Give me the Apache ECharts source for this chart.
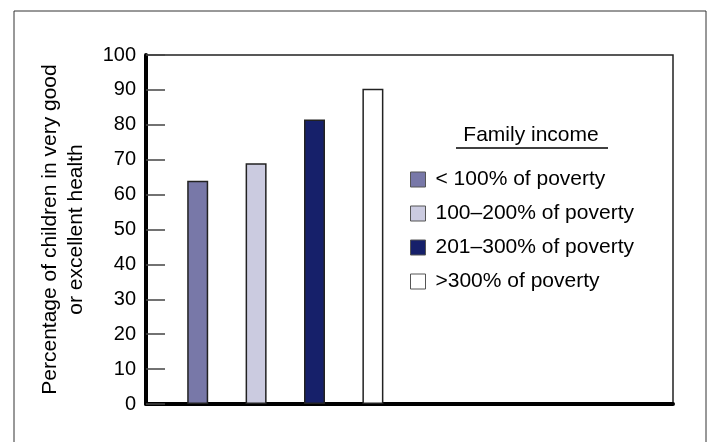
<!DOCTYPE html>
<html>
<head>
<meta charset="utf-8">
<script src="https://cdn.jsdelivr.net/npm/echarts@6/dist/echarts.min.js"></script>
<style>
html,body{margin:0;padding:0;background:#fff;}
#chart{width:709px;height:442px;}
</style>
</head>
<body>
<div id="chart"></div>
<script>
var categories = ['< 100% of poverty', '100–200% of poverty', '201–300% of poverty', '>300% of poverty'];
var values = [64, 69, 81.5, 90.3];
var colors = ['#7878a8', '#cbcbe0', '#16206a', '#ffffff'];
var yTicks = [0, 10, 20, 30, 40, 50, 60, 70, 80, 90, 100];
var yTitle = 'Percentage of children in very good\nor excellent health';
var legendTitle = 'Family income';

var FONT = '"Liberation Sans", Arial, Helvetica, sans-serif';
var chart = echarts.init(document.getElementById('chart'));

var series = categories.map(function (name, i) {
  var data = categories.map(function (c, j) { return j === i ? values[i] : '-'; });
  return {
    name: name,
    type: 'bar',
    xAxisIndex: 1,
    yAxisIndex: 1,
    data: data,
    barWidth: 21,
    barGap: '-100%',
    itemStyle: { color: colors[i], borderColor: '#222', borderWidth: 1.5 },
    emphasis: { disabled: true }
  };
});

var option = {
  animation: false,
  backgroundColor: '#fff',
  grid: [
    { left: 146, top: 55, right: 36, bottom: 38, show: true, borderColor: '#222', borderWidth: 1.5, backgroundColor: 'transparent' },
    { left: 168.5, top: 55, width: 233.6, bottom: 38 }
  ],
  xAxis: [
    { gridIndex: 0, type: 'value', min: 0, max: 1, axisLine: { show: true, onZero: false, lineStyle: { color: '#000', width: 4 } },
      axisTick: { show: false }, axisLabel: { show: false }, splitLine: { show: false } },
    { gridIndex: 1, type: 'category', data: categories, show: false }
  ],
  yAxis: [
    { gridIndex: 0, type: 'value', min: yTicks[0], max: yTicks[yTicks.length - 1], interval: 10,
      axisLine: { show: true, lineStyle: { color: '#000', width: 4 } },
      axisTick: { show: true, inside: true, length: 19, lineStyle: { color: '#444', width: 1.5 } },
      axisLabel: { fontSize: 20, color: '#000', fontFamily: FONT, margin: 10 },
      splitLine: { show: false },
      name: yTitle, nameLocation: 'middle', nameRotate: 90, nameGap: 57,
      nameTextStyle: { fontSize: 21, color: '#000', fontFamily: FONT, lineHeight: 26, align: 'center' }
    },
    { gridIndex: 1, type: 'value', min: 0, max: 100, show: false }
  ],
  legend: {
    orient: 'vertical', left: 405, top: 164,
    icon: 'rect', itemWidth: 15, itemHeight: 15, itemGap: 13,
    selectedMode: false,
    itemStyle: { borderColor: '#555', borderWidth: 1 },
    textStyle: { fontSize: 21, color: '#000', fontFamily: FONT, padding: [0, 0, 0, 5] },
    data: categories
  },
  graphic: [
    { type: 'rect', shape: { x: 14, y: 11, width: 692, height: 440 }, style: { fill: 'none', stroke: '#333', lineWidth: 1 }, silent: true, z: -1 },
    { type: 'text', x: 531, y: 135, style: { text: legendTitle, font: '21px ' + FONT, fill: '#000', textAlign: 'center', textVerticalAlign: 'middle' } },
    { type: 'line', shape: { x1: 456, y1: 148, x2: 608, y2: 148 }, style: { stroke: '#000', lineWidth: 1.5 } }
  ],
  series: series
};
chart.setOption(option);
</script>
</body>
</html>
